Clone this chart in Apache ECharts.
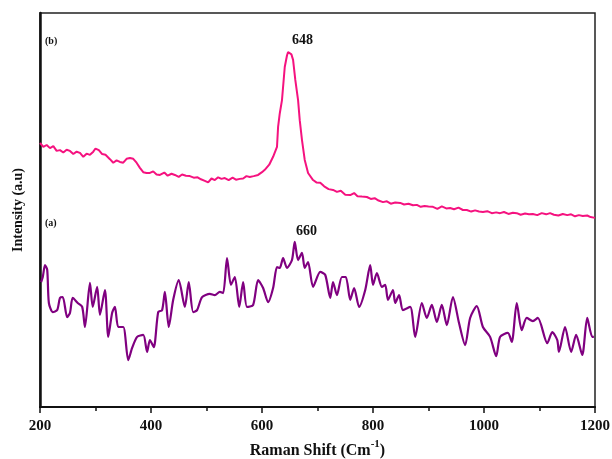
<!DOCTYPE html>
<html>
<head>
<meta charset="utf-8">
<script src="https://cdn.jsdelivr.net/npm/echarts@6/dist/echarts.min.js"></script>
<style>
  html, body { margin: 0; padding: 0; background: #fff; }
  #chart { width: 612px; height: 459px; }
</style>
</head>
<body>
<div id="chart"></div>
<script>
// x axis ticks (Raman shift, cm-1)
const xTicks = [200, 400, 600, 800, 1000, 1200];

// (b) spectrum, [shift, intensity]
const specB = [
  [200,67.0],[206,66.0],[212,66.5],[218,65.7],[224,66.2],[230,65.0],[236,65.2],[242,64.6],[248,65.3],[254,65.0],
  [260,64.2],[266,64.8],[272,64.5],[278,63.5],[284,64.3],[290,64.0],[296,64.8],[300,65.6],[306,65.2],[312,64.2],
  [318,64.0],[326,62.9],[332,62.0],[338,62.6],[344,62.2],[350,62.0],[356,63.0],[362,63.2],[368,63.0],[374,62.0],
  [380,60.7],[386,59.6],[392,59.4],[398,59.4],[404,59.8],[410,59.0],[416,58.9],[424,59.5],[430,58.7],[437,59.2],
  [443,58.9],[450,58.4],[456,59.0],[463,58.7],[470,58.6],[477,58.2],[484,58.3],[490,57.8],[497,57.4],[503,57.0],
  [509,58.0],[515,57.6],[521,58.3],[527,57.9],[533,58.1],[540,57.6],[547,58.2],[553,57.7],[560,57.9],[566,58.0],
  [572,58.6],[578,58.4],[585,58.6],[593,58.9],[600,59.6],[605,60.2],[613,61.5],[620,63.5],[627,66.0],[629,71.1],
  [632,74.5],[636,77.9],[641,86.3],[645,89.2],[647,90.1],[650,90.6],[653,89.5],[656,88.1],[660,83.0],[665,77.9],
  [668,72.8],[672,67.8],[677,62.7],[683,59.4],[692,57.6],[698,57.0],[705,56.9],[712,56.0],[720,55.3],[728,55.1],
  [735,54.6],[742,54.9],[750,53.9],[759,53.8],[766,54.3],[772,53.5],[780,53.4],[789,53.3],[796,52.8],[803,53.0],
  [810,52.4],[818,52.0],[825,52.2],[832,51.6],[840,51.9],[849,51.8],[856,51.4],[864,51.6],[872,51.2],[879,51.3],
  [886,50.8],[893,51.0],[900,50.9],[908,50.8],[916,50.3],[924,50.9],[932,50.4],[939,50.5],[946,50.2],[954,50.6],
  [962,50.0],[969,50.0],[977,49.6],[984,49.9],[991,49.6],[998,49.5],[1006,49.7],[1014,49.2],[1022,49.4],[1029,49.2],
  [1036,49.5],[1044,49.0],[1052,49.3],[1059,49.2],[1066,48.8],[1074,49.1],[1081,48.9],[1088,49.0],[1096,48.7],[1104,49.2],
  [1112,48.9],[1119,49.2],[1126,48.8],[1134,48.6],[1142,49.0],[1150,48.7],[1157,48.9],[1164,48.4],[1171,48.7],[1178,48.5],
  [1186,48.6],[1192,48.2],[1200,48.0]
];

// (a) spectrum, [shift, intensity]
const specA = [
  [202,31.7],[205,33.0],[209,36.0],[213,34.8],[216,26.4],[223,24.1],[231,24.6],[236,27.7],[241,27.9],[249,22.8],
  [254,23.9],[259,27.7],[268,26.4],[276,25.4],[281,20.3],[290,31.5],[295,25.4],[303,30.5],[308,23.4],[317,29.7],
  [323,17.8],[330,23.9],[335,25.4],[341,20.3],[350,20.3],[359,11.9],[366,15.0],[375,17.8],[386,18.3],[393,14.0],
  [398,17.0],[405,15.2],[413,24.1],[420,24.6],[425,29.2],[432,20.3],[440,27.2],[450,32.2],[461,25.4],[468,31.7],
  [476,24.1],[483,24.6],[492,27.9],[506,28.7],[515,28.4],[524,29.2],[530,28.9],[537,37.8],[544,31.0],[551,33.0],
  [559,25.4],[566,31.7],[573,25.4],[584,25.9],[593,32.2],[602,30.2],[611,26.6],[620,30.2],[627,35.5],[632,35.3],
  [638,37.8],[645,35.3],[654,37.3],[659,41.9],[665,37.3],[672,39.1],[677,35.3],[683,36.8],[692,30.5],[705,34.3],
  [714,33.5],[723,27.7],[728,31.7],[735,28.4],[744,33.0],[751,33.0],[759,27.2],[766,30.2],[775,25.4],[786,29.7],
  [795,36.0],[800,31.0],[807,34.0],[816,30.5],[822,31.0],[827,27.2],[836,29.7],[840,26.4],[847,28.4],[854,24.6],
  [867,25.4],[876,17.8],[888,26.4],[897,22.6],[906,25.9],[915,21.6],[924,25.9],[933,20.8],[944,27.9],[955,21.3],
  [966,15.7],[975,22.6],[987,25.6],[998,20.3],[1011,17.8],[1022,12.9],[1029,17.8],[1043,18.8],[1050,16.5],[1059,26.4],
  [1068,19.5],[1077,22.6],[1088,21.8],[1097,22.6],[1114,16.2],[1123,19.0],[1132,17.0],[1135,14.0],[1146,20.3],[1157,14.0],
  [1166,18.3],[1177,13.2],[1186,22.6],[1195,17.8],[1198,17.8]
];

const serif = '"Liberation Serif", "DejaVu Serif", serif';

const chart = echarts.init(document.getElementById('chart'), null, { renderer: 'canvas' });

chart.setOption({
  animation: false,
  backgroundColor: '#fff',
  grid: {
    left: 40, right: 17, top: 13, bottom: 52,
    containLabel: false, outerBoundsMode: 'none',
    show: true, borderColor: '#222', borderWidth: 1.5
  },
  xAxis: {
    type: 'value',
    min: xTicks[0], max: xTicks[xTicks.length - 1], interval: 200,
    name: '{n|Raman Shift (Cm}{s|-1}{n|)}',
    nameLocation: 'middle', nameGap: 32,
    nameTextStyle: {
      rich: {
        n: { fontFamily: serif, fontWeight: 'bold', fontSize: 16, color: '#111' },
        s: { fontFamily: serif, fontWeight: 'bold', fontSize: 11, color: '#111', verticalAlign: 'top', padding: [0, 0, 12, 0] }
      }
    },
    axisLine: { lineStyle: { color: '#111', width: 2 } },
    axisTick: { show: true, inside: false, length: 6, lineStyle: { color: '#111', width: 1.5 } },
    minorTick: { show: true, splitNumber: 2, length: 4, lineStyle: { color: '#111', width: 1.5 } },
    axisLabel: {
      fontFamily: serif, fontWeight: 'bold', fontSize: 15, color: '#111', margin: 12,
      formatter: (v) => String(v)
    },
    splitLine: { show: false }
  },
  yAxis: {
    type: 'value', min: 0, max: 100,
    name: 'Intensity (a.u)',
    nameLocation: 'middle', nameGap: 15,
    nameTextStyle: { fontFamily: serif, fontWeight: 'bold', fontSize: 14, color: '#111' },
    axisLine: { show: true, lineStyle: { color: '#111', width: 2.5 } },
    axisTick: { show: false },
    axisLabel: { show: false },
    splitLine: { show: false }
  },
  series: [
    {
      name: '(b)', type: 'line', data: specB, showSymbol: false,
      lineStyle: { color: '#f5127f', width: 2 }
    },
    {
      name: '(a)', type: 'line', data: specA, showSymbol: false, smooth: 0.25,
      lineStyle: { color: '#800080', width: 2.2 }
    }
  ],
  graphic: [
    { type: 'text', left: 45, top: 36, style: { text: '(b)', font: 'bold 10px ' + serif, fill: '#111' } },
    { type: 'text', left: 292, top: 33, style: { text: '648', font: 'bold 14px ' + serif, fill: '#111' } },
    { type: 'text', left: 45, top: 218, style: { text: '(a)', font: 'bold 10px ' + serif, fill: '#111' } },
    { type: 'text', left: 296, top: 224, style: { text: '660', font: 'bold 14px ' + serif, fill: '#111' } }
  ]
});
</script>
</body>
</html>
